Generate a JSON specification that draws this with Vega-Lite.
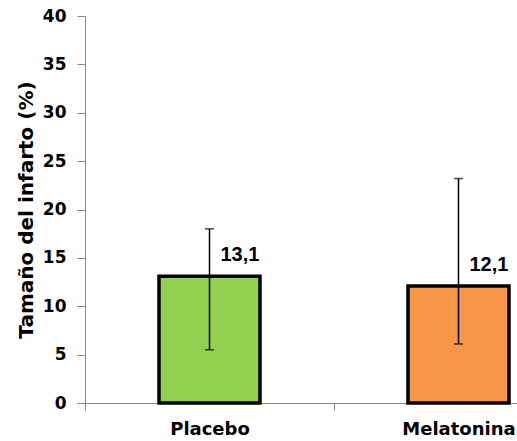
{
  "$schema": "https://vega.github.io/schema/vega-lite/v6.json",
  "autosize": {"type": "none"},
  "width": 432,
  "height": 387,
  "padding": {"left": 85, "top": 16, "right": 0, "bottom": 38},
  "background": "white",
  "config": {"view": {"stroke": null}},
  "data": {"values": [
    {"group": "Placebo", "value": 13.1, "label": "13,1", "lo": 5.5, "hi": 18.0},
    {"group": "Melatonina", "value": 12.1, "label": "12,1", "lo": 6.1, "hi": 23.2}
  ]},
  "encoding": {
    "x": {
      "field": "group", "type": "nominal", "sort": null,
      "scale": {"range": [0, 498], "paddingInner": 0, "paddingOuter": 0},
      "axis": {
        "title": null, "labelAngle": 0, "tickBand": "extent",
        "domainColor": "#888888", "tickColor": "#888888", "tickSize": 7,
        "labelFont": "DejaVu Sans", "labelFontWeight": "bold", "labelFontSize": 18,
        "labelColor": "black", "labelPadding": 10
      }
    }
  },
  "layer": [
    {
      "mark": {"type": "bar", "size": 101, "stroke": "black", "strokeWidth": 3.5},
      "encoding": {
        "y": {
          "field": "value", "type": "quantitative", "title": "Tamaño del infarto (%)",
          "scale": {"domain": [0, 40], "nice": false},
          "axis": {
            "values": [0, 5, 10, 15, 20, 25, 30, 35, 40],
            "grid": false, "domainColor": "#888888", "tickColor": "#888888", "tickSize": 8,
            "labelFont": "DejaVu Sans", "labelFontWeight": "bold", "labelFontSize": 17,
            "labelColor": "black", "labelPadding": 11,
            "titleFont": "DejaVu Sans", "titleFontWeight": "bold", "titleFontSize": 20,
            "titleColor": "black", "titlePadding": 6
          }
        },
        "color": {
          "field": "group", "type": "nominal", "legend": null,
          "scale": {"domain": ["Placebo", "Melatonina"], "range": ["#92D050", "#F79646"]}
        }
      }
    },
    {
      "mark": {
        "type": "errorbar",
        "ticks": {"color": "black", "size": 9, "thickness": 1.5},
        "rule": {"color": "black", "strokeWidth": 1.5}
      },
      "encoding": {
        "y": {"field": "lo", "type": "quantitative", "title": "Tamaño del infarto (%)"},
        "y2": {"field": "hi"}
      }
    },
    {
      "mark": {
        "type": "text", "align": "left", "baseline": "alphabetic", "dx": 11, "dy": -15,
        "font": "Liberation Sans", "fontWeight": "bold", "fontSize": 20, "color": "black"
      },
      "encoding": {
        "y": {"field": "value", "type": "quantitative", "title": "Tamaño del infarto (%)"},
        "text": {"field": "label", "type": "nominal"}
      }
    }
  ]
}
